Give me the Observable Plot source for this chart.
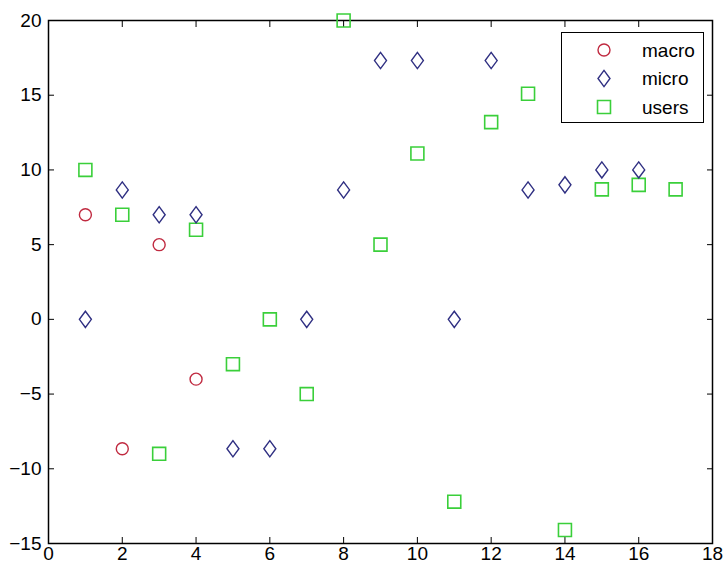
<!DOCTYPE html>
<html>
<head>
<meta charset="utf-8">
<script src="https://cdn.jsdelivr.net/npm/d3@7"></script>
<script src="https://cdn.jsdelivr.net/npm/@observablehq/plot@0.6"></script>
<style>
  html, body { margin: 0; padding: 0; background: #fff; }
  #wrap { position: relative; width: 724px; height: 571px; }
  #legend { position: absolute; left: 561px; top: 32px; width: 143px; height: 91px;
    border: 1px solid #000; background: #fff; box-sizing: border-box; }
  #legend svg { display: block; }
</style>
</head>
<body>
<div id="wrap"><div id="legend"></div></div>
<script>
// ---- data ----
const seriesNames = ["macro", "micro", "users"];
const seriesColors = ["#c02a40", "#2f2f82", "#3acf3a"];
const macroX = [1, 2, 3, 4];
const macroY = [7, -8.66, 5, -4];
const microX = [1, 2, 3, 4, 5, 6, 7, 8, 9, 10, 11, 12, 13, 14, 15, 16];
const microY = [0, 8.66, 7, 7, -8.66, -8.66, 0, 8.66, 17.32, 17.32, 0, 17.32, 8.66, 9, 10, 10];
const usersX = [1, 2, 3, 4, 5, 6, 7, 8, 9, 10, 11, 12, 13, 14, 15, 16, 17];
const usersY = [10, 7, -9, 6, -3, 0, -5, 20, 5, 11.1, -12.2, 13.2, 15.1, -14.1, 8.7, 9, 8.7];
const xTicks = [0, 2, 4, 6, 8, 10, 12, 14, 16, 18];
const yTicks = [-15, -10, -5, 0, 5, 10, 15, 20];

// ---- symbols (MATLAB-like) ----
const symCircle = { draw(ctx, size) { const r = Math.sqrt(size / Math.PI); ctx.moveTo(r, 0); ctx.arc(0, 0, r, 0, 2 * Math.PI); ctx.closePath(); } };
const symDiamond = { draw(ctx, size) { const r = Math.sqrt(size / Math.PI); const w = r, h = r * 1.35; ctx.moveTo(0, -h); ctx.lineTo(w, 0); ctx.lineTo(0, h); ctx.lineTo(-w, 0); ctx.closePath(); } };
const symSquare = { draw(ctx, size) { const r = Math.sqrt(size / Math.PI) * 1.08; ctx.rect(-r, -r, 2 * r, 2 * r); } };
const symbols = [symCircle, symDiamond, symSquare];

const toRows = (xs, ys) => xs.map((x, i) => ({ x, y: ys[i] }));
const macro = toRows(macroX, macroY);
const micro = toRows(microX, microY);
const users = toRows(usersX, usersY);

const font = "'Liberation Sans', Arial, sans-serif";

const chart = Plot.plot({
  width: 724,
  height: 571,
  marginLeft: 48,
  marginRight: 12,
  marginTop: 20,
  marginBottom: 28,
  style: { fontFamily: font, fontSize: "19px", color: "#000", background: "#fff" },
  x: { domain: [0, 18], ticks: xTicks, label: null },
  y: { domain: [-15, 20], ticks: yTicks, label: null },
  marks: [
    Plot.axisX({ anchor: "bottom", ticks: xTicks, tickSize: -6, tickPadding: 9, label: null, stroke: "#000", fill: "#000" }),
    Plot.axisX({ anchor: "top", ticks: xTicks, tickSize: -6, tickFormat: () => "", label: null, stroke: "#000" }),
    Plot.axisY({ anchor: "left", ticks: yTicks, tickSize: -6, tickPadding: 13, label: null, stroke: "#000", fill: "#000" }),
    Plot.axisY({ anchor: "right", ticks: yTicks, tickSize: -6, tickFormat: () => "", label: null, stroke: "#000" }),
    Plot.frame({ stroke: "#000", strokeWidth: 1.5 }),
    Plot.dot(users, { x: "x", y: "y", r: 6, symbol: symbols[2], stroke: seriesColors[2], strokeWidth: 1.6, fill: "none" }),
    Plot.dot(micro, { x: "x", y: "y", r: 6, symbol: symbols[1], stroke: seriesColors[1], strokeWidth: 1.4, fill: "none" }),
    Plot.dot(macro, { x: "x", y: "y", r: 6, symbol: symbols[0], stroke: seriesColors[0], strokeWidth: 1.4, fill: "none" })
  ]
});
document.getElementById("wrap").prepend(chart);

// ---- legend ----
const lg = d3.select("#legend").append("svg").attr("width", 141).attr("height", 89);
seriesNames.forEach((name, i) => {
  const g = lg.append("g").attr("transform", `translate(0, ${17 + i * 28.5})`);
  g.append("path")
    .attr("transform", "translate(42,0)")
    .attr("d", d3.symbol(symbols[i], 36 * Math.PI)())
    .attr("fill", "none").attr("stroke", seriesColors[i]).attr("stroke-width", i === 2 ? 1.6 : 1.4);
  g.append("text").attr("x", 80).attr("y", 0).attr("dy", "0.35em")
    .attr("font-family", font).attr("font-size", 19).attr("fill", "#000").text(name);
});
</script>
</body>
</html>
